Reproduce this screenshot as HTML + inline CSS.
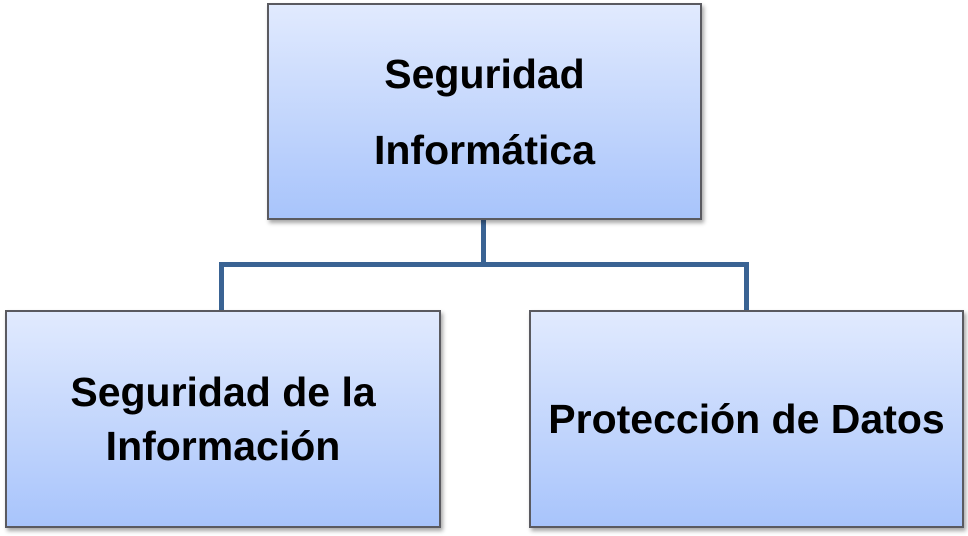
<!DOCTYPE html>
<html><head><style>
body{margin:0;width:968px;height:536px;background:#fff;position:relative;overflow:hidden;font-family:"Liberation Sans",sans-serif}
.b{position:absolute;box-sizing:border-box;border:2px solid #5a5a60;background:linear-gradient(#e1eafe,#a8c4fb);box-shadow:2px 3px 4px rgba(0,0,0,.35);display:flex;align-items:center;justify-content:center;text-align:center;font-weight:bold;font-size:41px;line-height:76px;color:#000}
.l{position:absolute;background:#3a6393}
</style></head><body>
<div class="l" style="left:481px;top:219px;width:5px;height:47px"></div>
<div class="l" style="left:219px;top:262px;width:530px;height:5px"></div>
<div class="l" style="left:219px;top:262px;width:5px;height:50px"></div>
<div class="l" style="left:744px;top:262px;width:5px;height:50px"></div>
<div class="b" style="left:267px;top:3px;width:435px;height:217px;padding-top:0px">Seguridad<br>Informática</div>
<div class="b" style="left:5px;top:310px;width:436px;height:218px;line-height:54px">Seguridad de la<br>Información</div>
<div class="b" style="left:529px;top:310px;width:435px;height:218px">Protección de Datos</div>
</body></html>
